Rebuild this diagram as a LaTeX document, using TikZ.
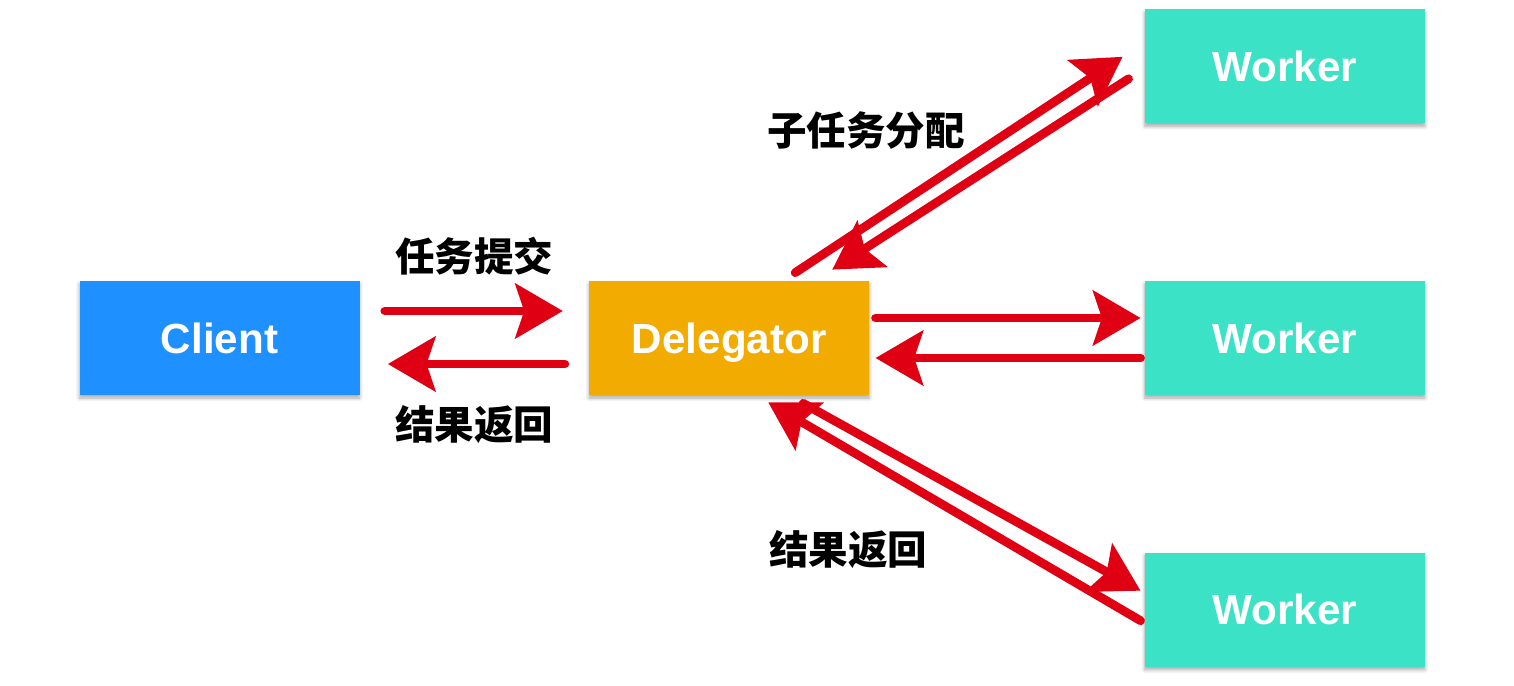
\documentclass[tikz,border=0pt]{standalone}
\usepackage{fontspec}
\setmainfont{Liberation Sans}
\newfontfamily\cjkfont{Noto Sans CJK SC}
\usetikzlibrary{arrows.meta, positioning, shadows.blur}
\definecolor{clientblue}{RGB}{30,144,255}
\definecolor{delegatororange}{RGB}{242,171,0}
\definecolor{workergreen}{RGB}{60,226,198}
\definecolor{arrowred}{RGB}{224,0,20}

\begin{document}
\begin{tikzpicture}[
  box/.style={rectangle, minimum width=5.6cm, minimum height=2.28cm,
    align=center, text=white, font=\fontsize{24}{28}\selectfont\bfseries,
    text height=17.3pt, text depth=0pt,
    blur shadow={shadow xshift=0pt, shadow yshift=-0.06cm,
      shadow blur steps=6, shadow opacity=35}},
  client/.style={box, fill=clientblue},
  delegator/.style={box, fill=delegatororange},
  worker/.style={box, fill=workergreen},
  flow/.style={draw=arrowred, line width=5pt, line cap=round,
    -{Stealth[length=27pt, width=31pt, inset=5pt]}},
  tag/.style={font=\cjkfont\bfseries\fontsize{22.5}{26}\selectfont, text=black}
]
  \useasboundingbox (0,0) rectangle (30.28,-13.72);

  \node[client] (client) at (4.39,-6.76) {Client};
  \node[delegator, right=4.58cm of client] (delegator) {Delegator};
  \node[worker, right=5.5cm of delegator] (wmid) {Worker};
  \node[worker, above=3.14cm of wmid] (wtop) {Worker};
  \node[worker, below=3.14cm of wmid] (wbot) {Worker};

  % client <-> delegator
  \draw[flow, shorten <=0.5cm, shorten >=0.52cm]
    ([yshift=0.54cm]client.east) -- node[tag, yshift=1.1cm] {任务提交}
    ([yshift=0.54cm]delegator.west);
  \draw[flow, shorten <=0.48cm, shorten >=0.56cm]
    ([yshift=-0.52cm]delegator.west) -- node[tag, yshift=-1.22cm] {结果返回}
    ([yshift=-0.52cm]client.east);

  % delegator <-> workers
  \draw[flow] ([xshift=1.32cm, yshift=0.16cm]delegator.north) --
    node[tag, xshift=-1.86cm, yshift=0.69cm] {子任务分配}
    ([xshift=-0.44cm, yshift=0.19cm]wtop.west);
  \draw[flow] ([xshift=-0.32cm, yshift=-0.25cm]wtop.west) --
    ([xshift=2.06cm, yshift=0.22cm]delegator.north);
  \draw[flow, shorten <=0.12cm, shorten >=0.08cm]
    ([yshift=0.4cm]delegator.east) -- ([yshift=0.4cm]wmid.west);
  \draw[flow, shorten <=0.08cm, shorten >=0.12cm]
    ([yshift=-0.4cm]wmid.west) -- ([yshift=-0.4cm]delegator.east);
  \draw[flow] ([xshift=1.48cm, yshift=-0.16cm]delegator.south) --
    ([xshift=-0.08cm, yshift=0.38cm]wbot.west);
  \draw[flow] ([xshift=-0.08cm, yshift=-0.22cm]wbot.west) --
    node[tag, xshift=-2.12cm, yshift=-0.76cm] {结果返回}
    ([xshift=0.78cm, yshift=-0.14cm]delegator.south);
\end{tikzpicture}
\end{document}
